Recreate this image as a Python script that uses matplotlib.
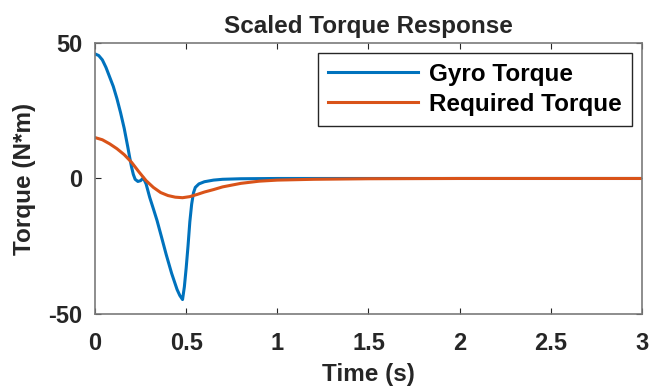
import matplotlib
matplotlib.use("Agg")
import matplotlib.pyplot as plt

# Gyro torque samples (time in s, torque in N*m)
gyro_t = [0.00, 0.02, 0.04, 0.06, 0.08, 0.10, 0.12, 0.14, 0.16, 0.18, 0.19,
          0.20, 0.21, 0.22, 0.235, 0.25, 0.265, 0.28, 0.30, 0.32, 0.34, 0.365,
          0.39, 0.42, 0.45, 0.465, 0.48, 0.49, 0.50, 0.51, 0.52, 0.53, 0.54,
          0.55, 0.57, 0.60, 0.65, 0.70, 0.80, 1.00, 1.50, 2.00, 3.00]
gyro_torque = [46.0, 45.4, 43.8, 41.0, 37.5, 34.0, 29.5, 24.3, 18.5, 11.5, 7.8,
               4.3, 1.5, -0.3, -1.1, -0.8, 0.2, -2.0, -7.0, -11.2, -15.5, -21.7,
               -28.0, -35.0, -41.0, -43.2, -44.7, -40.0, -33.0, -25.0, -16.0, -9.5, -5.3,
               -3.3, -2.0, -1.2, -0.6, -0.3, -0.1, 0.0, 0.0, 0.0, 0.0]

# Required torque samples
req_t = [0.00, 0.04, 0.08, 0.12, 0.16, 0.20, 0.24, 0.28, 0.32, 0.36, 0.40,
         0.44, 0.48, 0.52, 0.56, 0.60, 0.65, 0.70, 0.80, 0.90, 1.00, 1.20,
         1.50, 2.00, 3.00]
req_torque = [15.1, 14.3, 12.8, 11.0, 8.8, 6.0, 2.5, -0.8, -3.3, -5.2, -6.3,
              -6.9, -7.1, -6.7, -5.9, -5.0, -4.1, -3.1, -1.8, -1.0, -0.6, -0.3,
              -0.1, 0.0, 0.0]

x_ticks = [0, 0.5, 1, 1.5, 2, 2.5, 3]
x_labels = ["0", "0.5", "1", "1.5", "2", "2.5", "3"]
y_ticks = [-50, 0, 50]

plt.rcParams["font.family"] = ["Liberation Sans", "DejaVu Sans"]
plt.rcParams["font.weight"] = "bold"
plt.rcParams["axes.unicode_minus"] = False

axis_col = "#262626"

fig = plt.figure(figsize=(6.51, 3.88), dpi=100)
ax = fig.add_axes([0.146, 0.191, 0.840, 0.698])

ax.plot(gyro_t, gyro_torque, color="#0072BD", lw=2.2, label="Gyro Torque")
ax.plot(req_t, req_torque, color="#D95319", lw=2.2, label="Required Torque")

ax.set_xlim(0, 3)
ax.set_ylim(-50, 50)
ax.set_xticks(x_ticks)
ax.set_xticklabels(x_labels)
ax.set_yticks(y_ticks)
ax.tick_params(direction="in", length=4, width=0.8, top=True, right=True,
               labelsize=17, colors=axis_col)
ax.tick_params(axis="x", pad=13)
ax.tick_params(axis="y", pad=9)
for s in ax.spines.values():
    s.set_color("#7a7a7a")
    s.set_linewidth(1.2)

ax.set_title("Scaled Torque Response", fontsize=17.5, fontweight="bold",
             color=axis_col, pad=7)
ax.set_xlabel("Time (s)", fontsize=17.5, fontweight="bold", color=axis_col, labelpad=6)
ax.set_ylabel("Torque (N*m)", fontsize=17.5, fontweight="bold", color=axis_col, labelpad=9)

leg = ax.legend(loc="upper right", fontsize=17.5, handlelength=3.7,
                fancybox=False, framealpha=1, borderpad=0.42,
                labelspacing=0.28, handletextpad=0.45, borderaxespad=0.4)
leg.get_frame().set_edgecolor(axis_col)
leg.get_frame().set_linewidth(1.0)

fig.savefig("out.png", dpi=100)
